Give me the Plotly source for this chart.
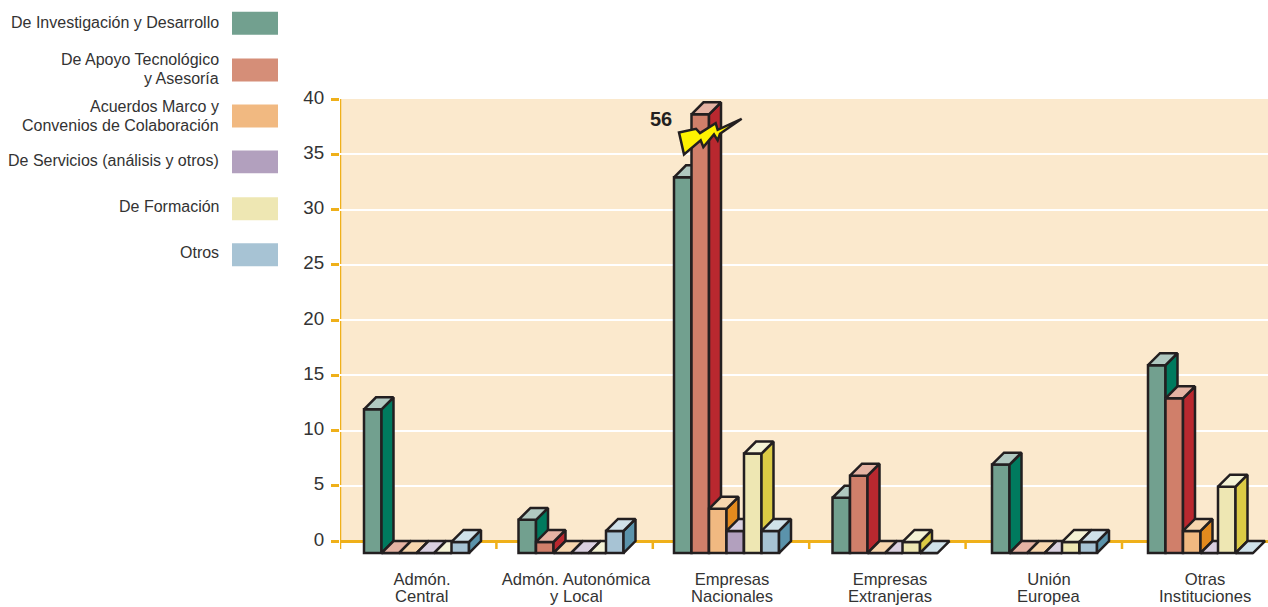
import plotly.graph_objects as go

# ---------- data ----------
categories = ["Admón.<br>Central", "Admón. Autonómica<br>y Local", "Empresas<br>Nacionales",
              "Empresas<br>Extranjeras", "Unión<br>Europea", "Otras<br>Instituciones"]
series_names = ["De Investigación y Desarrollo", "De Apoyo Tecnológico<br>y Asesoría",
                "Acuerdos Marco y<br>Convenios de Colaboración", "De Servicios (análisis y otros)",
                "De Formación", "Otros"]
investigacion = [13, 3, 34, 5, 8, 17]
apoyo = [0, 1, 56, 7, 0, 14]
acuerdos = [0, 0, 4, 0, 0, 2]
servicios = [0, 0, 2, 0, 0, 0]
formacion = [0, 0, 9, 1, 1, 6]
otros = [1, 2, 2, 0, 1, 0]
y_ticks = [0, 5, 10, 15, 20, 25, 30, 35, 40]
series_values = [investigacion, apoyo, acuerdos, servicios, formacion, otros]

# ---------- layout constants ----------
W, H = 1268, 607
PL, PT, P0, PBOT = 340, 98.5, 541.5, 556.5   # plot left/top, value 0, plot bottom (page px)
GROUP_PX = 156.4                       # pixels per category
Y_PX = (P0 - PT) / 40                  # pixels per value unit
DEPTH_PX = 12
BAR_PX = 17.5
BREAK_AT = 39.7                        # the tall bar is cut here (axis break)
LW = 2.5
group_left_px = [364, 518.5, 674, 832.5, 992, 1148]
label_center_px = [422, 576, 732, 890, 1049, 1205]
front = ["#72A08F", "#D07F6A", "#F1B981", "#B2A0BE", "#EEE7B3", "#A7C3D4"]
side = ["#007A5E", "#B9282F", "#E38A1E", "#7E5F8F", "#DBCB45", "#5B93AB"]
top = ["#B0C8C0", "#E5B3A3", "#F7D6AE", "#DAD0E0", "#F5F3D6", "#D0E2EA"]
swatch = ["#72A08F", "#D58E78", "#F1B981", "#B2A0BE", "#EEE7B3", "#A7C3D4"]
swatch_top = [11, 58, 104, 150, 197, 243]
legend_line_y = [[22], [59, 78], [106, 125], [160], [206], [252]]
INK = "#231F20"
TEXT = "#333333"
AXIS = "#EFB01A"

dx = DEPTH_PX / GROUP_PX
dy = DEPTH_PX / Y_PX
bw = BAR_PX / GROUP_PX
x_max = (W - PL) / GROUP_PX
y_min = -(PBOT - P0) / Y_PX
to_x = lambda px: (px - PL) / GROUP_PX
px_x = lambda px: (px - PL) / (W - PL)
px_y = lambda py: (PBOT - py) / (PBOT - PT)

fig = go.Figure()
for i, vals in enumerate(series_values):
    shown = [min(v, BREAK_AT) for v in vals]
    lefts = [to_x(g) + i * bw for g in group_left_px]
    tx, ty, sx, sy = [], [], [], []
    for x0, v in zip(lefts, shown):
        x1 = x0 + bw
        yf = v - dy
        tx += [x0, x1, x1 + dx, x0 + dx, x0, None]
        ty += [yf, yf, v, v, yf, None]
        if v > 0:
            sx += [x1, x1 + dx, x1 + dx, x1, x1, None]
            sy += [yf, v, 0, -dy, yf, None]
    for xs, ys, col in ((sx, sy, side[i]), (tx, ty, top[i])):
        if xs:
            fig.add_trace(go.Scatter(x=xs, y=ys, mode="lines", fill="toself", fillcolor=col,
                                     line=dict(color=INK, width=LW), hoverinfo="skip",
                                     showlegend=False, zorder=i))
    fig.add_trace(go.Bar(x=[x + bw / 2 for x in lefts], y=shown, base=-dy, width=bw,
                         name=series_names[i].replace("<br>", " "),
                         marker=dict(color=front[i], line=dict(color=INK, width=LW)),
                         showlegend=False, zorder=i))

# plot background (value range only), axis stub and category ticks
shapes = [dict(type="rect", xref="x", yref="y", x0=0, x1=x_max, y0=0, y1=40,
               fillcolor="#FBE9CD", line_width=0, layer="below")]
for g in range(6):
    shapes.append(dict(type="line", xref="x", yref="y", x0=g, x1=g, y0=40 if g == 0 else 0,
                       y1=-8 / Y_PX, line=dict(color=AXIS, width=2.5), layer="below"))

annotations = []
for i, t in enumerate(swatch_top):
    shapes.append(dict(type="rect", xref="paper", yref="paper", x0=px_x(232), x1=px_x(278),
                       y0=px_y(t + 23), y1=px_y(t), fillcolor=swatch[i], line_width=0))
    for line, y in zip(series_names[i].split("<br>"), legend_line_y[i]):
        annotations.append(dict(text=line, xref="paper", yref="paper", x=px_x(221), y=px_y(y),
                                xanchor="right", yanchor="middle", showarrow=False,
                                font=dict(size=16, color=TEXT)))
for c, p in zip(categories, label_center_px):
    annotations.append(dict(text=c.split("<br>")[1], xref="paper", yref="paper", x=px_x(p),
                            y=px_y(597.5), xanchor="center", yanchor="middle", showarrow=False,
                            font=dict(size=16.6, color=TEXT)))

bolt = [(27, 66), (78, 55), (90, 68), (137, 38), (143, 58), (215, 25), (150, 70), (143, 90),
        (132, 72), (100, 110), (92, 90), (42, 132)]
path = "M" + " L".join(f"{px_x(670 + a / 3):.5f},{px_y(110 + b / 3):.5f}" for a, b in bolt) + " Z"
shapes.append(dict(type="path", xref="paper", yref="paper", path=path, fillcolor="#FFF200",
                   line=dict(color=INK, width=LW), layer="above"))
annotations.append(dict(text="<b>56</b>", xref="paper", yref="paper", x=px_x(660.5), y=px_y(119),
                        xanchor="center", yanchor="middle", showarrow=False,
                        font=dict(size=20, color=INK)))

fig.update_layout(
    template="none", width=W, height=H, autosize=False, barmode="overlay",
    margin=dict(l=PL, r=0, t=PT, b=H - PBOT, pad=0),
    paper_bgcolor="white", plot_bgcolor="rgba(0,0,0,0)",
    font=dict(family="Liberation Sans, Arial, sans-serif", color=TEXT),
    shapes=shapes, annotations=annotations, showlegend=False,
    xaxis=dict(range=[0, x_max], tickmode="array",
               tickvals=[to_x(p) for p in label_center_px],
               ticktext=[c.split("<br>")[0] for c in categories],
               ticks="", ticklabelstandoff=11, tickfont=dict(size=16.6, color=TEXT),
               showgrid=False, zeroline=False, showline=False, automargin=False,
               layer="below traces"),
    yaxis=dict(range=[y_min, 40], tickmode="array", tickvals=y_ticks, ticks="outside", ticklen=8,
               tickwidth=2.5, tickcolor=AXIS, tickfont=dict(size=18.8, color=TEXT),
               ticklabelstandoff=3, ticklabelshift=-2,
               showgrid=True, gridcolor="white", gridwidth=2,
               zeroline=True, zerolinecolor=AXIS, zerolinewidth=2.5,
               showline=False, automargin=False, layer="below traces"),
)
fig.write_html("out.html", config=dict(displayModeBar=False),
               post_script="document.body.style.margin='0';")
